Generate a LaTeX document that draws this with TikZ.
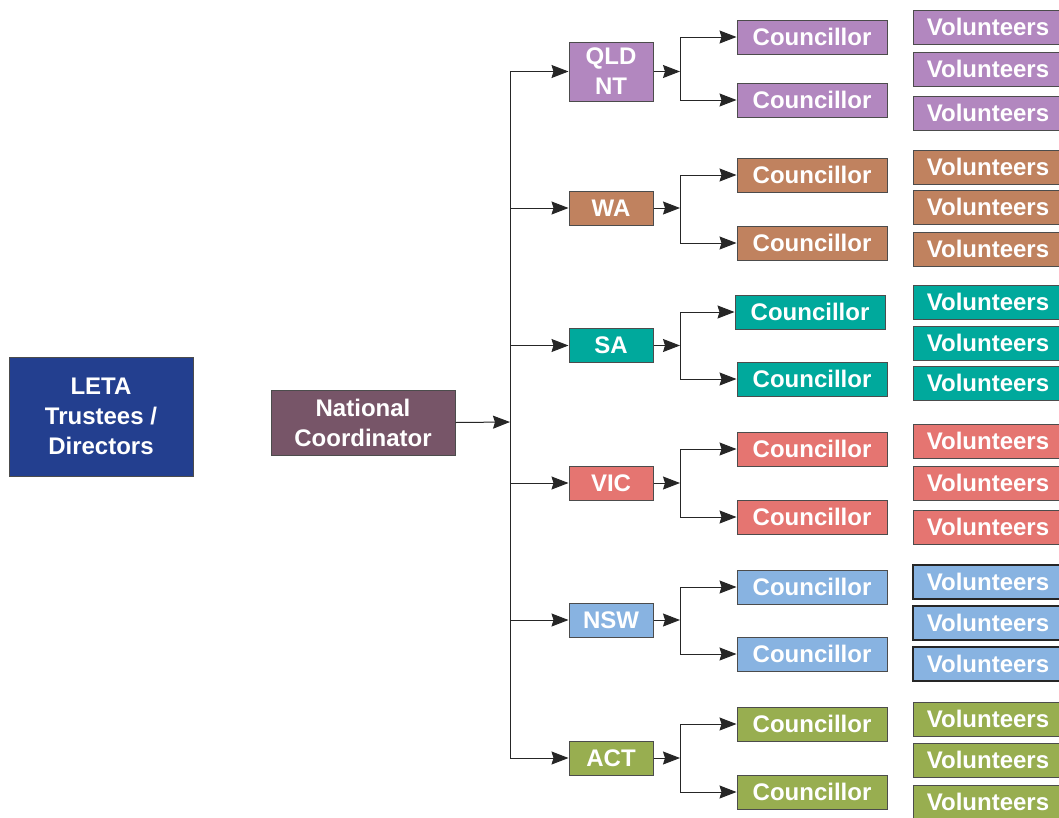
\documentclass[tikz,border=0pt]{standalone}
\usepackage{fontspec}
\setmainfont{Liberation Sans}
\usetikzlibrary{arrows.meta}
\definecolor{letablue}{HTML}{233F8F}
\definecolor{ncmauve}{HTML}{775568}
\definecolor{cqld}{HTML}{B287BF}
\definecolor{cwa}{HTML}{C0825F}
\definecolor{csa}{HTML}{00A99C}
\definecolor{cvic}{HTML}{E57571}
\definecolor{cnsw}{HTML}{88B3E1}
\definecolor{cact}{HTML}{98AE50}
\tikzset{
  box/.style={draw=black!70,line width=1pt,inner sep=0pt,text=white,align=center,
    font=\bfseries\fontsize{24}{30}\selectfont},
  smallbox/.style={box,minimum width=150pt,minimum height=34pt},
  statebox/.style={box,minimum width=84pt},
  thickv/.style={draw=black!85,line width=2.2pt},
  thinv/.style={},
  conn/.style={line width=1pt,draw=black!85},
  linkarrow/.style={conn,-{Stealth[length=17pt,width=13pt,inset=2pt]}}
}
\begin{document}
\begin{tikzpicture}[x=1pt,y=-1pt]
\useasboundingbox (0,0) rectangle (1059,817);
\fill[white] (0,0) rectangle (1059,817);
\clip (0,0) rectangle (1059,817);

\node[box,fill=letablue,minimum width=184pt,minimum height=119pt] (leta) at (101,416.5) {LETA\\Trustees /\\Directors};
\node[box,fill=ncmauve,minimum width=184pt,minimum height=65pt] (nc) at (363,422.5) {National\\Coordinator};
\coordinate (tr) at (510,422);
\draw[linkarrow] (nc.east) -- (tr);

\foreach \n/\lbl/\col/\sy/\sh/\cx/\ca/\cb/\va/\vb/\vc/\vs in {
  qld/{QLD\\NT}/cqld/71.5/59/812/37/100/27/69/113/thinv,
  wa/WA/cwa/208/34/812/175/243/167/207/249/thinv,
  sa/SA/csa/345.5/34/810/312/379/302/343/383/thinv,
  vic/VIC/cvic/483/34/812/449/517/441/483/527/thinv,
  nsw/NSW/cnsw/620/34/812/587/654/582/623/664/thickv,
  act/ACT/cact/758/34/812/724/792/719/760/802/thinv}{
  \node[statebox,fill=\col,minimum height=\sh pt] (s\n) at (611,\sy) {\lbl};
  \node[smallbox,fill=\col] (c\n a) at (\cx,\ca) {Councillor};
  \node[smallbox,fill=\col] (c\n b) at (812,\cb) {Councillor};
  \node[smallbox,fill=\col,\vs] (v\n a) at (988,\va) {Volunteers};
  \node[smallbox,fill=\col,\vs] (v\n b) at (988,\vb) {Volunteers};
  \node[smallbox,fill=\col,\vs] (v\n c) at (988,\vc) {Volunteers};
  \draw[linkarrow] (tr |- s\n) -- (s\n.west);
  \coordinate (b\n) at (680,\sy);
  \draw[linkarrow] (s\n.east) -- (b\n);
  \draw[conn] (b\n |- c\n a) -- (b\n |- c\n b);
  \draw[linkarrow] (b\n |- c\n a) -- (c\n a.west);
  \draw[linkarrow] (b\n |- c\n b) -- (c\n b.west);
}
\draw[conn] (tr |- sqld) -- (tr |- sact);
\end{tikzpicture}
\end{document}
